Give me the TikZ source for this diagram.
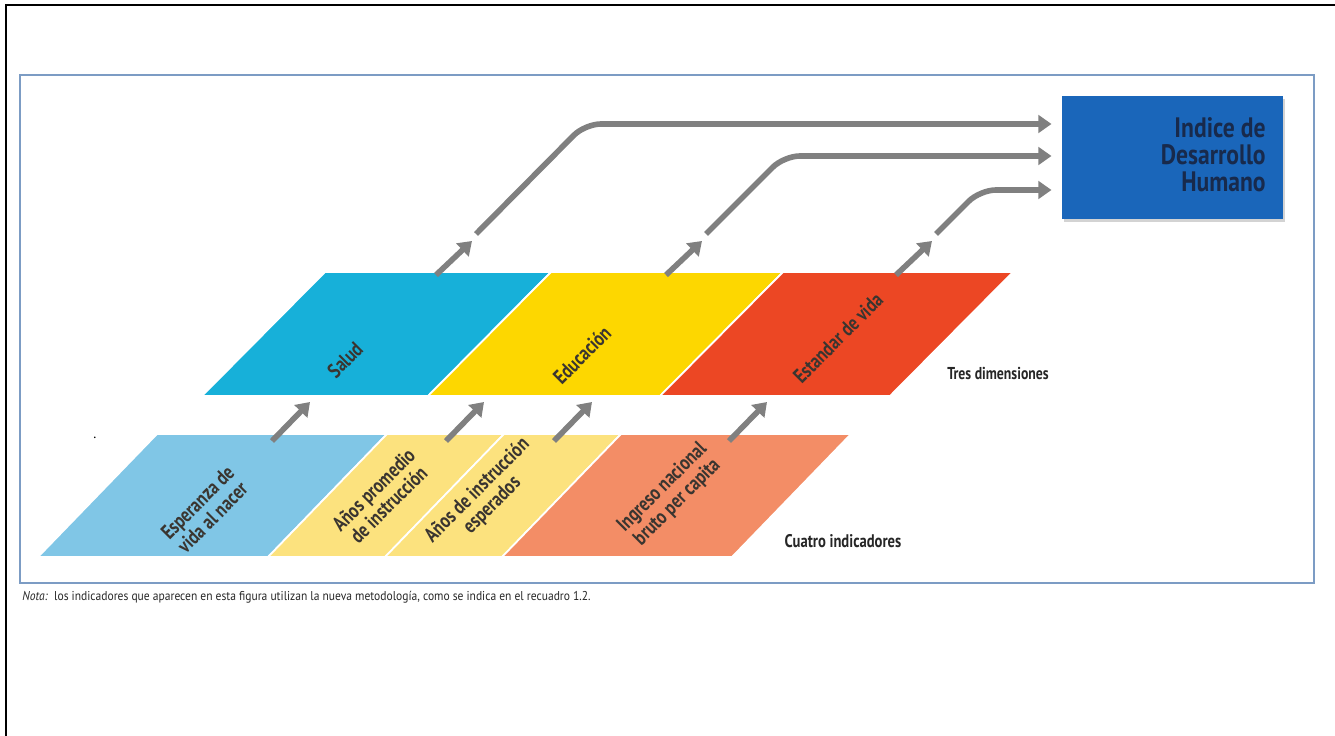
\documentclass[tikz,border=0pt]{standalone}
\usepackage{fontspec}
\setmainfont{PT Sans}
\newfontfamily\condfont[FakeStretch=0.8]{PT Sans}
\newfontfamily\boxfont[FakeStretch=0.84]{PT Sans}
\newfontfamily\notafont[FakeStretch=0.9]{PT Sans}
\usetikzlibrary{arrows.meta, positioning, shadows}

\definecolor{framecolor}{HTML}{7C9CC4}
\definecolor{vidacolor}{HTML}{80C6E6}
\definecolor{instcolor}{HTML}{FCE27E}
\definecolor{ingrcolor}{HTML}{F38D66}
\definecolor{saludcolor}{HTML}{17B0D9}
\definecolor{educcolor}{HTML}{FDD700}
\definecolor{vidaestcolor}{HTML}{EC4724}
\definecolor{idhcolor}{HTML}{1A66BA}
\definecolor{idhtext}{HTML}{182A4C}
\definecolor{arrowgray}{HTML}{808080}
\definecolor{labeltext}{HTML}{3A3530}

\tikzset{
  plate/.style={draw=white, line width=1pt},
  tilted/.style={rotate=45, align=center, text=labeltext, inner sep=0pt,
    font=\condfont\bfseries\fontsize{11.8}{12}\selectfont},
  rowlabel/.style={text=black!85, inner sep=0pt,
    font=\condfont\bfseries\fontsize{9.8}{10}\selectfont},
  smallarrow/.style={arrowgray, line width=3.2pt,
    -{Triangle[width=10pt, length=7.5pt]}},
  longarrow/.style={arrowgray, line width=3.2pt, rounded corners=9pt,
    -{Triangle[width=10pt, length=7.5pt]}}
}

\begin{document}
\begin{tikzpicture}[x=0.02cm, y=-0.02cm]
  \useasboundingbox (0,0) rectangle (1335,736);
  \clip (0,0) rectangle (1335,736);

  % outer frame and figure frame
  \draw[line width=1.2pt] (6,5) rectangle (1360,760);
  \draw[framecolor, line width=1.4pt] (20,75) rectangle (1314,583);

  % four indicators (bottom row)
  \foreach \xa/\xb/\col in {38/268/vidacolor, 268/385/instcolor,
                            385/502/instcolor, 502/732/ingrcolor} {
    \fill[\col, plate] (\xa,557) -- (\xb,557) -- (\xb+119,434) -- (\xa+119,434) -- cycle;
  }

  % three dimensions (top row)
  \foreach \xa/\xb/\col in {202/428/saludcolor, 428/660/educcolor,
                            660/890/vidaestcolor} {
    \fill[\col, plate] (\xa,396) -- (\xb,396) -- (\xb+123,272) -- (\xa+123,272) -- cycle;
  }

  % labels on the plates
  \node[tilted] (vida) at (205,510) {Esperanza de\\vida al nacer};
  \node[tilted] (prom) at (381,497) {Años promedio\\de instrucción};
  \node[tilted] (esper) at (485,498) {Años de instrucción\\esperados};
  \node[tilted] (ingreso) at (670,495) {Ingreso nacional\\bruto per capita};
  \node[tilted] (salud) at (345,360) {Salud};
  \node[tilted] (educ) at (582,355) {Educación};
  \node[tilted] (estandar) at (838,338) {Estandar de vida};

  \node[rowlabel] (tres) at (998,373) {Tres dimensiones};
  \node[rowlabel, font=\condfont\bfseries\fontsize{10.4}{11}\selectfont]
        (cuatro) at (843,541) {Cuatro indicadores};
  \node[inner sep=0pt, font=\fontsize{8}{8}\selectfont] (punto) at (95,438) {.};

  % index box
  \node[fill=idhcolor, minimum width=221*0.02cm, minimum height=123*0.02cm,
        inner sep=0pt, drop shadow={shadow xshift=1.5pt, shadow yshift=-1.5pt, opacity=0.35}]
        (idh) at (1172,158) {};
  \node[anchor=north east, align=right, text=idhtext, inner sep=0pt,
        font=\boxfont\bfseries\fontsize{16}{15.5}\selectfont]
        (idhlabel) at (1266,117) {Indice de\\Desarrollo\\Humano};

  % arrows from indicators to dimensions
  \foreach \i/\x in {1/272, 2/446, 3/554, 4/729} {
    \coordinate (b\i) at (\x,441);
    \coordinate (bt\i) at (\x+38,402);
    \draw[smallarrow] (b\i) -- (bt\i);
  }
  % arrows out of the dimensions
  \foreach \i/\x in {1/436, 2/666, 3/896} {
    \coordinate (t\i) at (\x,275);
    \coordinate (tt\i) at (\x+36,241);
    \draw[smallarrow] (t\i) -- (tt\i);
  }

  % lines into the index
  \coordinate (l1) at (476,234);
  \coordinate (l2) at (706,234);
  \coordinate (l3) at (936,234);
  \draw[longarrow, shorten >=5.5pt] (l1) -- (585,124) -- (idh.west |- 0,124);
  \draw[longarrow, shorten >=5.5pt] (l2) -- (784,156) -- (idh.west |- 0,156);
  \draw[longarrow, shorten >=5.5pt] (l3) -- (980,190) -- (idh.west |- 0,190);

  % note
  \node[anchor=west, inner sep=0pt, text=black!85, font=\notafont\fontsize{7.3}{8}\selectfont]
        (nota) at (22,597) {\textit{Nota:}\ \ los indicadores que aparecen en esta figura utilizan la nueva metodología, como se indica en el recuadro 1.2.};
\end{tikzpicture}
\end{document}
